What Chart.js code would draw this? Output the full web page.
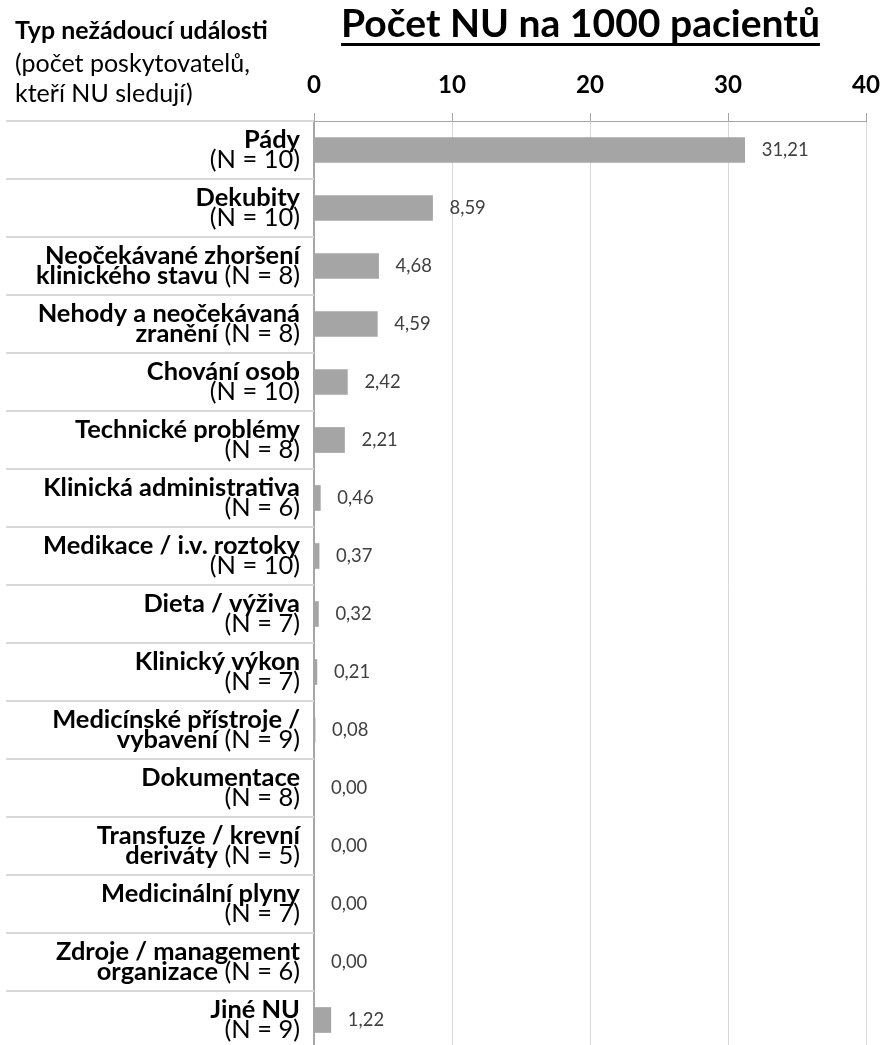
<!DOCTYPE html>
<html><head><meta charset="utf-8">
<script src="https://cdn.jsdelivr.net/npm/chart.js@4"></script>
<style>html,body{margin:0;padding:0;background:#fff;overflow:hidden}#wrap{width:887px;height:1049px;position:relative}</style>
</head><body><div id="wrap"><canvas id="c" width="887" height="1049"></canvas></div>
<script>
// ---- data ----
const categoryLines = [
  ["Pády"],
  ["Dekubity"],
  ["Neočekávané zhoršení", "klinického stavu"],
  ["Nehody a neočekávaná", "zranění"],
  ["Chování osob"],
  ["Technické problémy"],
  ["Klinická administrativa"],
  ["Medikace / i.v. roztoky"],
  ["Dieta / výživa"],
  ["Klinický výkon"],
  ["Medicínské přístroje /", "vybavení"],
  ["Dokumentace"],
  ["Transfuze / krevní", "deriváty"],
  ["Medicinální plyny"],
  ["Zdroje / management", "organizace"],
  ["Jiné NU"]
];
const categories = categoryLines.map(l => l.join(' '));
const providerCounts = [10, 10, 8, 8, 10, 8, 6, 10, 7, 7, 9, 8, 5, 7, 6, 9];
const values = [31.21, 8.59, 4.68, 4.59, 2.42, 2.21, 0.46, 0.37, 0.32, 0.21, 0.08, 0.00, 0.00, 0.00, 0.00, 1.22];
const xMin = 0, xMax = 40, xStep = 10;
const titleText = "Počet NU na 1000 pacientů";
const headerBold = "Typ nežádoucí události";
const headerNormal = ["(počet poskytovatelů,", "kteří NU sledují)"];

// ---- font fitting helpers ----
const FAMILY = "Lato, Carlito, 'Open Sans', sans-serif";
const mc = document.createElement('canvas').getContext('2d');
function fit(text, weight, target) {
  mc.font = weight + " 100px " + FAMILY;
  return 100 * target / mc.measureText(text).width;
}
const tickSize = fit("30", "bold", 28);
const catSize = fit("Neočekávané zhoršení", "bold", 255);
const valSize = fit("31,21", "normal", 47);
const titleSize = fit(titleText, "bold", 479);
const headBoldSize = fit(headerBold, "bold", 253);
const headNormSize = fit(headerNormal[0], "normal", 235);

function fmt(v) { return v.toFixed(2).replace('.', ','); }

const decor = {
  id: 'decor',
  beforeDatasetsDraw(chart) {
    const ctx = chart.ctx, ys = chart.scales.y, ca = chart.chartArea;
    const rowH = ys.getPixelForValue(1) - ys.getPixelForValue(0);
    ctx.save();
    ctx.strokeStyle = '#d9d9d9';
    ctx.lineWidth = 2;
    for (let i = 0; i <= categories.length; i++) {
      const y = Math.round(ys.getPixelForValue(i) - rowH / 2);
      ctx.beginPath();
      ctx.moveTo(6, y);
      ctx.lineTo(ca.left, y);
      ctx.stroke();
    }
    ctx.restore();
  },
  afterDraw(chart) {
    const ctx = chart.ctx, ys = chart.scales.y, ca = chart.chartArea;
    ctx.save();
    // title
    ctx.fillStyle = '#000';
    ctx.font = "bold " + titleSize + "px " + FAMILY;
    ctx.textAlign = 'center';
    ctx.textBaseline = 'alphabetic';
    const tw = ctx.measureText(titleText).width;
    const tcx = 580.5;
    ctx.fillText(titleText, tcx, 37);
    ctx.fillRect(tcx - tw / 2, 43, tw, 3);
    // header
    ctx.textAlign = 'left';
    ctx.font = "bold " + headBoldSize + "px " + FAMILY;
    ctx.fillStyle = '#000';
    ctx.fillText(headerBold, 15, 39);
    ctx.font = headNormSize + "px " + FAMILY;
    ctx.fillStyle = '#000';
    ctx.fillText(headerNormal[0], 15, 72);
    ctx.fillText(headerNormal[1], 15, 102);
    // category labels
    const lh = 20;
    const rightX = 300;
    ctx.textBaseline = 'middle';
    categoryLines.forEach((lines, i) => {
      const cy = ys.getPixelForValue(i);
      const nTag = "(N = " + providerCounts[i] + ")";
      let rows;
      if (lines.length === 1) rows = [[[lines[0], true]], [[nTag, false]]];
      else rows = [[[lines[0], true]], [[lines[1], true], [" " + nTag, false]]];
      const n = rows.length;
      rows.forEach((segs, k) => {
        const y = cy + (k - (n - 1) / 2) * lh;
        let x = rightX;
        for (let s = segs.length - 1; s >= 0; s--) {
          const [txt, bold] = segs[s];
          ctx.font = (bold ? "bold " : "") + catSize + "px " + FAMILY;
          ctx.textAlign = 'right';
          ctx.fillStyle = '#000';
          ctx.fillText(txt, x, y);
          x -= ctx.measureText(txt).width;
        }
      });
    });
    // value labels
    const meta = chart.getDatasetMeta(0);
    ctx.font = valSize + "px " + FAMILY;
    ctx.fillStyle = '#404040';
    ctx.textAlign = 'left';
    meta.data.forEach((bar, i) => {
      ctx.fillText(fmt(values[i]), bar.x + 17, bar.y);
    });
    ctx.restore();
  }
};

new Chart(document.getElementById('c'), {
  type: 'bar',
  data: {
    labels: categories,
    datasets: [{
      data: values,
      backgroundColor: '#a5a5a5',
      borderWidth: 0,
      barThickness: 25
    }]
  },
  options: {
    indexAxis: 'y',
    responsive: false,
    animation: false,
    layout: { padding: { left: 0, right: 21, top: 0, bottom: 0 } },
    plugins: { legend: { display: false }, tooltip: { enabled: false }, title: { display: false } },
    scales: {
      x: {
        position: 'top',
        min: xMin, max: xMax,
        ticks: { stepSize: xStep, color: '#000', font: { family: FAMILY, weight: 'bold', size: tickSize }, padding: 13 },
        grid: { color: '#d9d9d9', tickColor: '#a6a6a6', tickLength: 8, lineWidth: 1 },
        border: { display: true, color: '#a6a6a6', width: 1 },
        afterFit(s) { s.height = 121; s.paddingLeft = 0; s.paddingRight = 0; }
      },
      y: {
        ticks: { display: false },
        grid: { display: false, drawTicks: false },
        border: { display: true, color: '#a6a6a6', width: 2 },
        afterFit(s) { s.width = 314; }
      }
    }
  },
  plugins: [decor]
});
</script>
</body></html>
